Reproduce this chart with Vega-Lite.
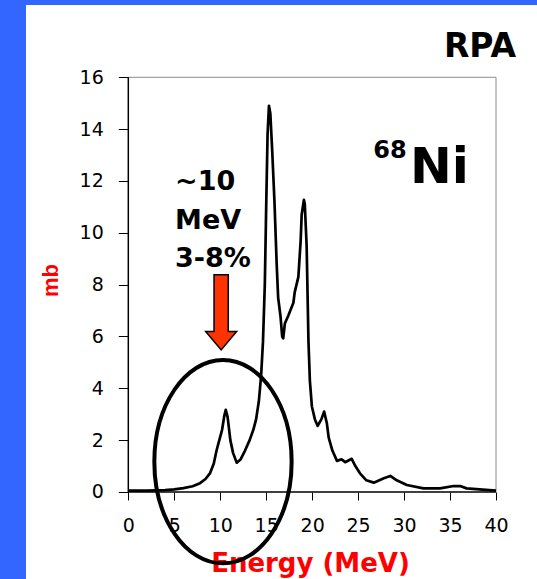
{
  "$schema": "https://vega.github.io/schema/vega-lite/v6.json",
  "width": 511,
  "height": 574,
  "autosize": {"type": "none"},
  "padding": {"left": 26, "top": 5, "right": 0, "bottom": 0},
  "background": "#3366ff",
  "config": {
    "view": {"fill": "white", "stroke": null},
    "axis": {"grid": false}
  },
  "datasets": {
    "spectrum": [
      {"E": 0, "mb": 0.05}, {"E": 1, "mb": 0.05}, {"E": 2, "mb": 0.05}, {"E": 3, "mb": 0.06},
      {"E": 4, "mb": 0.07}, {"E": 5, "mb": 0.1}, {"E": 6, "mb": 0.15}, {"E": 7, "mb": 0.22},
      {"E": 7.8, "mb": 0.34}, {"E": 8.4, "mb": 0.5}, {"E": 8.9, "mb": 0.73}, {"E": 9.3, "mb": 1.1},
      {"E": 9.6, "mb": 1.6}, {"E": 9.9, "mb": 2.0}, {"E": 10.2, "mb": 2.4}, {"E": 10.45, "mb": 2.95},
      {"E": 10.6, "mb": 3.17}, {"E": 10.8, "mb": 2.9}, {"E": 11.1, "mb": 2.0}, {"E": 11.4, "mb": 1.5},
      {"E": 11.8, "mb": 1.13}, {"E": 12.2, "mb": 1.25}, {"E": 12.7, "mb": 1.6}, {"E": 13.2, "mb": 2.0},
      {"E": 13.6, "mb": 2.4}, {"E": 13.9, "mb": 2.8}, {"E": 14.2, "mb": 3.5}, {"E": 14.45, "mb": 4.5},
      {"E": 14.65, "mb": 5.8}, {"E": 14.85, "mb": 8.0}, {"E": 15.0, "mb": 11.0}, {"E": 15.15, "mb": 13.8},
      {"E": 15.3, "mb": 14.9}, {"E": 15.45, "mb": 14.6}, {"E": 15.65, "mb": 13.2}, {"E": 15.9, "mb": 11.2},
      {"E": 16.14, "mb": 8.8}, {"E": 16.3, "mb": 7.5}, {"E": 16.56, "mb": 6.77}, {"E": 16.74, "mb": 6.0},
      {"E": 16.85, "mb": 5.93}, {"E": 17.03, "mb": 6.5}, {"E": 17.4, "mb": 6.8}, {"E": 17.96, "mb": 7.3},
      {"E": 18.1, "mb": 7.7}, {"E": 18.5, "mb": 8.3}, {"E": 18.75, "mb": 9.7}, {"E": 18.86, "mb": 10.7},
      {"E": 19.1, "mb": 11.27}, {"E": 19.2, "mb": 11.1}, {"E": 19.4, "mb": 9.5}, {"E": 19.6, "mb": 5.8},
      {"E": 19.75, "mb": 4.3}, {"E": 19.97, "mb": 3.3}, {"E": 20.3, "mb": 2.8}, {"E": 20.6, "mb": 2.55},
      {"E": 21.0, "mb": 2.8}, {"E": 21.3, "mb": 3.1}, {"E": 21.6, "mb": 2.65}, {"E": 21.8, "mb": 2.1},
      {"E": 22.2, "mb": 1.6}, {"E": 22.7, "mb": 1.2}, {"E": 23.2, "mb": 1.26}, {"E": 23.6, "mb": 1.15},
      {"E": 24.3, "mb": 1.28}, {"E": 24.7, "mb": 1.0}, {"E": 25.2, "mb": 0.72}, {"E": 25.9, "mb": 0.45},
      {"E": 26.7, "mb": 0.36}, {"E": 27.8, "mb": 0.53}, {"E": 28.5, "mb": 0.62}, {"E": 29.2, "mb": 0.45},
      {"E": 30.3, "mb": 0.27}, {"E": 32.1, "mb": 0.14}, {"E": 33.9, "mb": 0.14}, {"E": 35.4, "mb": 0.23},
      {"E": 36.1, "mb": 0.23}, {"E": 36.8, "mb": 0.14}, {"E": 38.2, "mb": 0.1}, {"E": 40, "mb": 0.05}
    ],
    "axisLines": [
      {"E": 0, "E2": 40, "mb": 0, "mb2": 0},
      {"E": 0, "E2": 0, "mb": 0, "mb2": 16}
    ],
    "frameLines": [
      {"E": 0, "E2": 40, "mb": 16, "mb2": 16},
      {"E": 40, "E2": 40, "mb": 0, "mb2": 16}
    ]
  },
  "encoding": {
    "x": {
      "field": "E",
      "type": "quantitative",
      "scale": {"domain": [-11.13, 44.46], "nice": false, "zero": false},
      "axis": {
        "values": [0, 5, 10, 15, 20, 25, 30, 35, 40],
        "domain": false,
        "offset": -87,
        "tickSize": 8,
        "tickColor": "black",
        "tickWidth": 1,
        "labelFont": "DejaVu Sans",
        "labelFontSize": 19,
        "labelColor": "black",
        "labelPadding": 16,
        "labelFlush": false,
        "labelOverlap": false,
        "title": "Energy (MeV)",
        "titleFont": "DejaVu Sans",
        "titleFontWeight": "bold",
        "titleFontSize": 26,
        "titleColor": "#ff0000",
        "titleX": 284,
        "titleY": 79,
        "titleAlign": "center",
        "titleBaseline": "alphabetic"
      }
    },
    "y": {
      "field": "mb",
      "type": "quantitative",
      "scale": {"domain": [-3.357, 18.789], "nice": false, "zero": false},
      "axis": {
        "values": [0, 2, 4, 6, 8, 10, 12, 14, 16],
        "domain": false,
        "offset": -102.3,
        "tickSize": 10,
        "tickColor": "black",
        "tickWidth": 1,
        "labelFont": "DejaVu Sans",
        "labelFontSize": 19,
        "labelColor": "black",
        "labelPadding": 15,
        "labelOverlap": false,
        "title": "mb",
        "titleFont": "Liberation Sans",
        "titleFontWeight": "bold",
        "titleFontSize": 22,
        "titleColor": "#ff0000",
        "titleAngle": -90,
        "titleX": -70.5,
        "titleY": 275,
        "titleAlign": "center",
        "titleBaseline": "alphabetic"
      }
    }
  },
  "layer": [
    {
      "data": {"name": "frameLines"},
      "mark": {"type": "rule", "color": "#8c8c8c", "strokeWidth": 1},
      "encoding": {"x2": {"field": "E2"}, "y2": {"field": "mb2"}}
    },
    {
      "data": {"name": "axisLines"},
      "mark": {"type": "rule", "color": "black", "strokeWidth": 1.5},
      "encoding": {"x2": {"field": "E2"}, "y2": {"field": "mb2"}}
    },
    {
      "data": {"name": "spectrum"},
      "mark": {"type": "line", "color": "black", "strokeWidth": 2.7, "strokeJoin": "round"}
    },
    {
      "data": {"values": [{"E": 10.3, "mb": 1.17}]},
      "mark": {
        "type": "point",
        "shape": "M -0.675 0 A 0.675 1 0 1 0 0.675 0 A 0.675 1 0 1 0 -0.675 0 Z",
        "size": 41372,
        "filled": false,
        "stroke": "black",
        "strokeWidth": 4,
        "opacity": 1
      }
    },
    {
      "data": {"values": [{"E": 10.1, "mb": 6.93}]},
      "mark": {
        "type": "point",
        "shape": "M -0.19 -1 L 0.19 -1 L 0.19 0.51 L 0.413 0.51 L 0 1 L -0.413 0.51 L -0.19 0.51 Z",
        "size": 5625,
        "filled": true,
        "fill": "#ff3300",
        "stroke": "black",
        "strokeWidth": 1.5,
        "opacity": 1
      }
    },
    {
      "data": {"values": [{"E": 38.26, "mb": 16.77, "label": "RPA"}]},
      "mark": {"type": "text", "font": "DejaVu Sans", "fontWeight": "bold", "fontSize": 33, "align": "center", "baseline": "alphabetic", "color": "black"},
      "encoding": {"text": {"field": "label"}}
    },
    {
      "data": {"values": [{"E": 26.65, "mb": 12.87, "label": "68"}]},
      "mark": {"type": "text", "font": "DejaVu Sans", "fontWeight": "bold", "fontSize": 24, "align": "left", "baseline": "alphabetic", "color": "black"},
      "encoding": {"text": {"field": "label"}}
    },
    {
      "data": {"values": [{"E": 30.64, "mb": 11.91, "label": "Ni"}]},
      "mark": {"type": "text", "font": "DejaVu Sans", "fontWeight": "bold", "fontSize": 50, "align": "left", "baseline": "alphabetic", "color": "black"},
      "encoding": {"text": {"field": "label"}}
    },
    {
      "data": {"values": [{"E": 5.08, "mb": 11.65, "label": "~10\nMeV\n3-8%"}]},
      "mark": {"type": "text", "font": "DejaVu Sans", "fontWeight": "bold", "fontSize": 27, "align": "left", "baseline": "alphabetic", "lineBreak": "\n", "lineHeight": 38.5, "color": "black"},
      "encoding": {"text": {"field": "label"}}
    }
  ]
}
